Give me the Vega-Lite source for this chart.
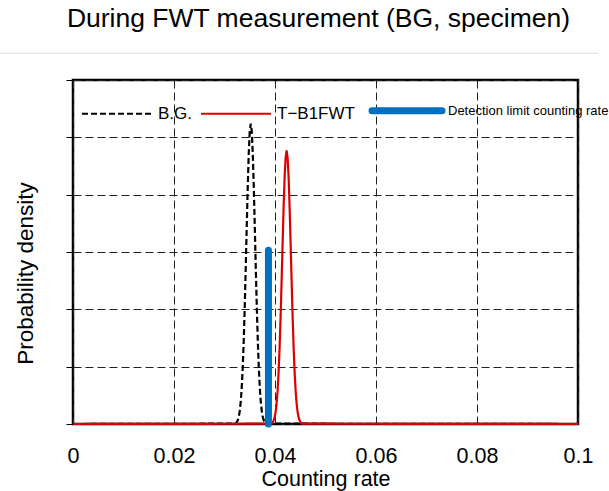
{
  "$schema": "https://vega.github.io/schema/vega-lite/v6.json",
  "width": 505,
  "height": 344,
  "autosize": "none",
  "padding": {"left": 73, "top": 80, "right": 31, "bottom": 67},
  "background": "white",
  "title": {
    "text": "During FWT measurement (BG, specimen)",
    "fontSize": 26.5,
    "font": "Liberation Sans",
    "fontWeight": "normal",
    "color": "black",
    "anchor": "middle",
    "frame": "group",
    "baseline": "alphabetic",
    "offset": -1,
    "dx": -7
  },
  "config": {
    "view": {"stroke": "black", "strokeWidth": 2.5},
    "font": "Liberation Sans"
  },
  "datasets": {
    "curves": [
      {"series": "B.G.", "rate": 0, "density": 0},
      {"series": "B.G.", "rate": 0.0320, "density": 0.006},
      {"series": "B.G.", "rate": 0.0322, "density": 0.014},
      {"series": "B.G.", "rate": 0.0324, "density": 0.030},
      {"series": "B.G.", "rate": 0.0326, "density": 0.060},
      {"series": "B.G.", "rate": 0.0328, "density": 0.117},
      {"series": "B.G.", "rate": 0.0330, "density": 0.214},
      {"series": "B.G.", "rate": 0.0332, "density": 0.373},
      {"series": "B.G.", "rate": 0.0334, "density": 0.616},
      {"series": "B.G.", "rate": 0.0336, "density": 0.966},
      {"series": "B.G.", "rate": 0.0338, "density": 1.436},
      {"series": "B.G.", "rate": 0.0340, "density": 2.024},
      {"series": "B.G.", "rate": 0.0342, "density": 2.707},
      {"series": "B.G.", "rate": 0.0344, "density": 3.433},
      {"series": "B.G.", "rate": 0.0346, "density": 4.131},
      {"series": "B.G.", "rate": 0.0348, "density": 4.714},
      {"series": "B.G.", "rate": 0.0350, "density": 5.103},
      {"series": "B.G.", "rate": 0.0352, "density": 5.24},
      {"series": "B.G.", "rate": 0.0354, "density": 5.103},
      {"series": "B.G.", "rate": 0.0356, "density": 4.714},
      {"series": "B.G.", "rate": 0.0358, "density": 4.131},
      {"series": "B.G.", "rate": 0.0360, "density": 3.433},
      {"series": "B.G.", "rate": 0.0362, "density": 2.707},
      {"series": "B.G.", "rate": 0.0364, "density": 2.024},
      {"series": "B.G.", "rate": 0.0366, "density": 1.436},
      {"series": "B.G.", "rate": 0.0368, "density": 0.966},
      {"series": "B.G.", "rate": 0.0370, "density": 0.616},
      {"series": "B.G.", "rate": 0.0372, "density": 0.373},
      {"series": "B.G.", "rate": 0.0374, "density": 0.214},
      {"series": "B.G.", "rate": 0.0376, "density": 0.117},
      {"series": "B.G.", "rate": 0.0378, "density": 0.060},
      {"series": "B.G.", "rate": 0.0380, "density": 0.030},
      {"series": "B.G.", "rate": 0.0382, "density": 0.014},
      {"series": "B.G.", "rate": 0.0384, "density": 0.006},
      {"series": "B.G.", "rate": 0.1, "density": 0},
      {"series": "T−B1FWT", "rate": 0, "density": 0},
      {"series": "T−B1FWT", "rate": 0.0391, "density": 0.0055},
      {"series": "T−B1FWT", "rate": 0.0393, "density": 0.0125},
      {"series": "T−B1FWT", "rate": 0.0395, "density": 0.027},
      {"series": "T−B1FWT", "rate": 0.0397, "density": 0.055},
      {"series": "T−B1FWT", "rate": 0.0399, "density": 0.106},
      {"series": "T−B1FWT", "rate": 0.0401, "density": 0.195},
      {"series": "T−B1FWT", "rate": 0.0403, "density": 0.340},
      {"series": "T−B1FWT", "rate": 0.0405, "density": 0.561},
      {"series": "T−B1FWT", "rate": 0.0407, "density": 0.879},
      {"series": "T−B1FWT", "rate": 0.0409, "density": 1.307},
      {"series": "T−B1FWT", "rate": 0.0411, "density": 1.842},
      {"series": "T−B1FWT", "rate": 0.0413, "density": 2.464},
      {"series": "T−B1FWT", "rate": 0.0415, "density": 3.125},
      {"series": "T−B1FWT", "rate": 0.0417, "density": 3.760},
      {"series": "T−B1FWT", "rate": 0.0419, "density": 4.291},
      {"series": "T−B1FWT", "rate": 0.0421, "density": 4.645},
      {"series": "T−B1FWT", "rate": 0.0423, "density": 4.77},
      {"series": "T−B1FWT", "rate": 0.0425, "density": 4.645},
      {"series": "T−B1FWT", "rate": 0.0427, "density": 4.291},
      {"series": "T−B1FWT", "rate": 0.0429, "density": 3.760},
      {"series": "T−B1FWT", "rate": 0.0431, "density": 3.125},
      {"series": "T−B1FWT", "rate": 0.0433, "density": 2.464},
      {"series": "T−B1FWT", "rate": 0.0435, "density": 1.842},
      {"series": "T−B1FWT", "rate": 0.0437, "density": 1.307},
      {"series": "T−B1FWT", "rate": 0.0439, "density": 0.879},
      {"series": "T−B1FWT", "rate": 0.0441, "density": 0.561},
      {"series": "T−B1FWT", "rate": 0.0443, "density": 0.340},
      {"series": "T−B1FWT", "rate": 0.0445, "density": 0.195},
      {"series": "T−B1FWT", "rate": 0.0447, "density": 0.106},
      {"series": "T−B1FWT", "rate": 0.0449, "density": 0.055},
      {"series": "T−B1FWT", "rate": 0.0451, "density": 0.027},
      {"series": "T−B1FWT", "rate": 0.0453, "density": 0.0125},
      {"series": "T−B1FWT", "rate": 0.0455, "density": 0.0055},
      {"series": "T−B1FWT", "rate": 0.1, "density": 0}
    ],
    "limit": [
      {"series": "Detection limit counting rate", "rate": 0.0387, "density": 3.03}
    ]
  },
  "layer": [
    {
      "data": {"values": [{}]},
      "mark": {"type": "rule", "color": "#dddddd", "strokeWidth": 1, "clip": false},
      "encoding": {
        "x": {"datum": -0.0145, "type": "quantitative", "scale": {"domain": [0, 0.1], "nice": false},
          "axis": {"values": [0, 0.02, 0.04, 0.06, 0.08, 0.1], "format": "~g", "labelFontSize": 21.5, "labelFont": "Liberation Sans", "labelColor": "black", "labelPadding": 21, "labelFlush": false, "ticks": false, "domain": false, "grid": true, "gridColor": "#222222", "gridDash": [8, 4], "gridWidth": 1, "title": "Counting rate", "titleFontSize": 21.5, "titleFontWeight": "normal", "titleFont": "Liberation Sans", "titleColor": "black", "titlePadding": 1.5}},
        "x2": {"datum": 0.104},
        "y": {"datum": 6.466, "type": "quantitative", "scale": {"domain": [0, 6], "nice": false},
          "axis": {"values": [0, 1, 2, 3, 4, 5, 6], "labels": false, "ticks": true, "tickSize": 7, "tickColor": "black", "tickWidth": 1, "domain": false, "grid": true, "gridColor": "#222222", "gridDash": [8, 4], "gridWidth": 1, "title": "Probability density", "titleFontSize": 22.5, "titleFontWeight": "normal", "titleFont": "Liberation Sans", "titleColor": "black", "titlePadding": 28.5, "titleY": 193}}
      }
    },
    {
      "data": {"name": "curves"},
      "mark": {"type": "line", "strokeWidth": 2.2, "clip": false},
      "encoding": {
        "x": {"field": "rate", "type": "quantitative", "scale": {"domain": [0, 0.1], "nice": false},
          "axis": {"values": [0, 0.02, 0.04, 0.06, 0.08, 0.1], "format": "~g", "labelFontSize": 21.5, "labelFont": "Liberation Sans", "labelColor": "black", "labelPadding": 21, "labelFlush": false, "ticks": false, "domain": false, "grid": true, "gridColor": "#222222", "gridDash": [8, 4], "gridWidth": 1, "title": "Counting rate", "titleFontSize": 21.5, "titleFontWeight": "normal", "titleFont": "Liberation Sans", "titleColor": "black", "titlePadding": 1.5}},
        "y": {"field": "density", "type": "quantitative", "scale": {"domain": [0, 6], "nice": false},
          "axis": {"values": [0, 1, 2, 3, 4, 5, 6], "labels": false, "ticks": true, "tickSize": 7, "tickColor": "black", "tickWidth": 1, "domain": false, "grid": true, "gridColor": "#222222", "gridDash": [8, 4], "gridWidth": 1, "title": "Probability density", "titleFontSize": 22.5, "titleFontWeight": "normal", "titleFont": "Liberation Sans", "titleColor": "black", "titlePadding": 28.5, "titleY": 193}},
        "color": {"field": "series", "type": "nominal",
          "scale": {"domain": ["B.G.", "T−B1FWT", "Detection limit counting rate"], "range": ["black", "#dd0000", "#0070c0"]},
          "legend": {"orient": "none", "legendX": 9, "legendY": 22, "direction": "horizontal", "title": null, "symbolType": "stroke", "symbolSize": 4900, "symbolOffset": 26.5, "labelOffset": 32.5, "columnPadding": 3, "padding": 0, "labelFont": "Liberation Sans", "labelColor": "black", "labelFontSize": 17, "labelLimit": 300,
            "encode": {
              "symbols": {"update": {
                "strokeDash": {"signal": "datum.value == 'B.G.' ? [6, 3] : [1, 0]"},
                "strokeWidth": {"signal": "datum.value == 'Detection limit counting rate' ? 7 : 2.2"},
                "strokeCap": {"signal": "datum.value == 'Detection limit counting rate' ? 'round' : 'butt'"}
              }},
              "labels": {"update": {
                "fontSize": {"signal": "datum.value == 'Detection limit counting rate' ? 13 : 17"}
              }}
            }}},
        "strokeDash": {"field": "series", "type": "nominal",
          "scale": {"domain": ["B.G.", "T−B1FWT"], "range": [[6, 3], [1, 0]]}, "legend": null}
      }
    },
    {
      "data": {"name": "limit"},
      "mark": {"type": "rule", "strokeWidth": 7, "strokeCap": "round", "clip": false},
      "encoding": {
        "x": {"field": "rate", "type": "quantitative", "scale": {"domain": [0, 0.1], "nice": false},
          "axis": {"values": [0, 0.02, 0.04, 0.06, 0.08, 0.1], "format": "~g", "labelFontSize": 21.5, "labelFont": "Liberation Sans", "labelColor": "black", "labelPadding": 21, "labelFlush": false, "ticks": false, "domain": false, "grid": true, "gridColor": "#222222", "gridDash": [8, 4], "gridWidth": 1, "title": "Counting rate", "titleFontSize": 21.5, "titleFontWeight": "normal", "titleFont": "Liberation Sans", "titleColor": "black", "titlePadding": 1.5}},
        "y": {"field": "density", "type": "quantitative", "scale": {"domain": [0, 6], "nice": false},
          "axis": {"values": [0, 1, 2, 3, 4, 5, 6], "labels": false, "ticks": true, "tickSize": 7, "tickColor": "black", "tickWidth": 1, "domain": false, "grid": true, "gridColor": "#222222", "gridDash": [8, 4], "gridWidth": 1, "title": "Probability density", "titleFontSize": 22.5, "titleFontWeight": "normal", "titleFont": "Liberation Sans", "titleColor": "black", "titlePadding": 28.5, "titleY": 193}},
        "y2": {"datum": 0},
        "color": {"field": "series", "type": "nominal",
          "scale": {"domain": ["B.G.", "T−B1FWT", "Detection limit counting rate"], "range": ["black", "#dd0000", "#0070c0"]},
          "legend": {"orient": "none", "legendX": 9, "legendY": 22, "direction": "horizontal", "title": null, "symbolType": "stroke", "symbolSize": 4900, "symbolOffset": 26.5, "labelOffset": 32.5, "columnPadding": 3, "padding": 0, "labelFont": "Liberation Sans", "labelColor": "black", "labelFontSize": 17, "labelLimit": 300,
            "encode": {
              "symbols": {"update": {
                "strokeDash": {"signal": "datum.value == 'B.G.' ? [6, 3] : [1, 0]"},
                "strokeWidth": {"signal": "datum.value == 'Detection limit counting rate' ? 7 : 2.2"},
                "strokeCap": {"signal": "datum.value == 'Detection limit counting rate' ? 'round' : 'butt'"}
              }},
              "labels": {"update": {
                "fontSize": {"signal": "datum.value == 'Detection limit counting rate' ? 13 : 17"}
              }}
            }}}
      }
    }
  ]
}
